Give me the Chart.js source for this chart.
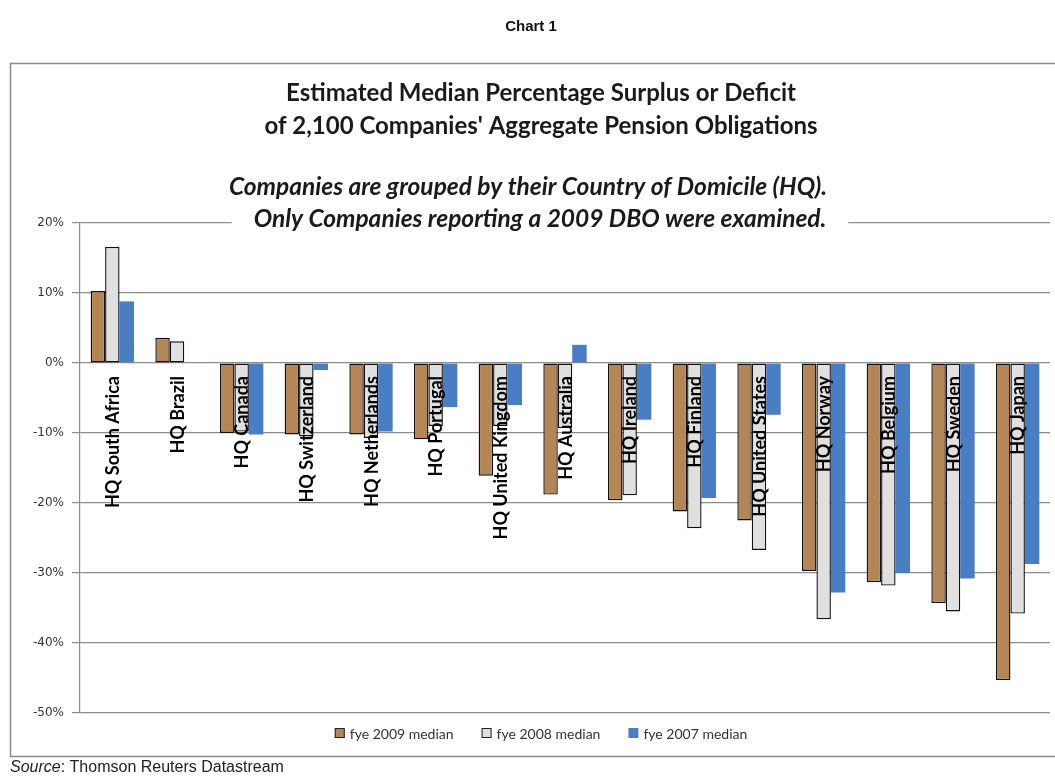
<!DOCTYPE html>
<html>
<head>
<meta charset="utf-8">
<script src="https://cdn.jsdelivr.net/npm/chart.js@4"></script>
<style>
html,body{margin:0;padding:0;background:#fff;}
canvas{display:block;}
</style>
</head>
<body>
<canvas id="c" width="1055" height="776"></canvas>
<script>
const categories = ['HQ South Africa','HQ Brazil','HQ Canada','HQ Switzerland','HQ Netherlands','HQ Portugal','HQ United Kingdom','HQ Australia','HQ Ireland','HQ Finland','HQ United States','HQ Norway','HQ Belgium','HQ Sweden','HQ Japan'];
const fye2009 = [10.3, 3.6, -10.0, -10.2, -10.2, -10.9, -16.1, -18.8, -19.6, -21.2, -22.5, -29.7, -31.3, -34.3, -45.3];
const fye2008 = [16.6, 3.1, -9.8, -10.5, -10.7, -9.0, -9.0, -9.3, -18.9, -23.6, -26.7, -36.6, -31.8, -35.5, -35.8];
const fye2007 = [8.8, null, -10.2, -1.0, -9.8, -6.3, -6.0, 2.6, -8.1, -19.3, -7.4, -32.8, -30.0, -30.8, -28.7];
const seriesNames = ['fye 2009 median','fye 2008 median','fye 2007 median'];
const yTicks = {min: -50, max: 20, step: 10};
const chartHeading = 'Chart 1';
const titleLines = ['Estimated Median Percentage Surplus or Deficit', "of 2,100 Companies' Aggregate Pension Obligations"];
const subtitleLines = ['Companies are grouped by their Country of Domicile (HQ).', 'Only Companies reporting a 2009 DBO were examined.'];
const sourceText = ['Source', ': Thomson Reuters Datastream'];

const decor = {
  id: 'decor',
  beforeDraw(chart) {
    const ctx = chart.ctx;
    ctx.save();
    ctx.fillStyle = '#fff';
    ctx.fillRect(0, 0, chart.width, chart.height);
    ctx.strokeStyle = '#8a8a8a';
    ctx.lineWidth = 1.5;
    ctx.strokeRect(10.5, 63.5, 1060, 693);
    ctx.fillStyle = '#111';
    ctx.textAlign = 'center';
    ctx.textBaseline = 'middle';
    ctx.font = 'bold 15px "Liberation Sans", Arial, sans-serif';
    ctx.fillText(chartHeading, 531, 27);
    ctx.textAlign = 'left';
    ctx.font = 'italic 16px "Liberation Sans", Arial, sans-serif';
    ctx.fillStyle = '#222';
    ctx.fillText(sourceText[0], 10, 768);
    const w = ctx.measureText(sourceText[0]).width;
    ctx.font = '16px "Liberation Sans", Arial, sans-serif';
    ctx.fillText(sourceText[1], 10 + w, 768);
    ctx.restore();
  },
  afterDraw(chart) {
    const ctx = chart.ctx;
    ctx.save();
    ctx.textAlign = 'center';
    ctx.textBaseline = 'middle';
    ctx.fillStyle = '#1a1a1a';
    ctx.font = 'bold 24px Lato, sans-serif';
    ctx.fillText(titleLines[0], 541, 93);
    ctx.fillText(titleLines[1], 541, 126);
    ctx.font = 'italic bold 24.5px Lato, sans-serif';
    const w2 = ctx.measureText(subtitleLines[1]).width;
    ctx.fillStyle = '#fff';
    ctx.fillRect(540 - w2 / 2 - 22, 206, w2 + 44, 28);
    ctx.fillStyle = '#1a1a1a';
    ctx.fillText(subtitleLines[0], 528, 187);
    ctx.fillText(subtitleLines[1], 540, 219);
    const ds = chart.data.datasets;
    ctx.font = '14px Lato, sans-serif';
    ctx.textAlign = 'left';
    const box = 10, gapB = 5, gapI = 28;
    const widths = ds.map(d => box + gapB + ctx.measureText(d.label).width);
    const total = widths.reduce((a, b) => a + b, 0) + gapI * (ds.length - 1);
    let x = 541 - total / 2;
    const ly = 733;
    ds.forEach((d, i) => {
      ctx.fillStyle = d.backgroundColor;
      ctx.fillRect(x, ly - box / 2, box, box);
      if (d.borderWidth) {
        ctx.strokeStyle = '#222';
        ctx.lineWidth = 1;
        ctx.strokeRect(x + 0.5, ly - box / 2 + 0.5, box - 1, box - 1);
      }
      ctx.fillStyle = '#333';
      ctx.fillText(d.label, x + box + gapB, ly + 1);
      x += widths[i] + gapI;
    });
    ctx.restore();
  },
  afterDatasetsDraw(chart) {
    const ctx = chart.ctx;
    const xs = chart.scales.x, ys = chart.scales.y;
    ctx.save();
    ctx.font = 'bold 18px Lato, sans-serif';
    ctx.fillStyle = '#000';
    ctx.textAlign = 'right';
    ctx.textBaseline = 'middle';
    const y0 = ys.getPixelForValue(0);
    chart.data.labels.forEach((lab, i) => {
      const cx = xs.getPixelForValue(i) + 1;
      ctx.save();
      ctx.translate(cx, y0 + 13);
      ctx.rotate(-Math.PI / 2);
      ctx.fillText(lab, 0, 0);
      ctx.restore();
    });
    ctx.restore();
  }
};

new Chart(document.getElementById('c'), {
  type: 'bar',
  data: {
    labels: categories,
    datasets: [
      {label: seriesNames[0], data: fye2009, backgroundColor: '#b48656', borderColor: '#111', borderWidth: 1.4, borderSkipped: false},
      {label: seriesNames[1], data: fye2008, backgroundColor: '#e0e0e0', borderColor: '#111', borderWidth: 1.4, borderSkipped: false},
      {label: seriesNames[2], data: fye2007, backgroundColor: '#4a7ec4', borderWidth: 0}
    ]
  },
  options: {
    responsive: false,
    devicePixelRatio: 1,
    animation: false,
    layout: {padding: {top: 223, bottom: 63, left: 0, right: 5}},
    datasets: {bar: {categoryPercentage: 0.67, barPercentage: 1.0}},
    plugins: {legend: {display: false}, title: {display: false}, tooltip: {enabled: false}},
    scales: {
      x: {display: false, offset: true},
      y: {
        min: yTicks.min, max: yTicks.max,
        afterFit(s) { s.width = 80; },
        ticks: {stepSize: yTicks.step, callback: v => v + '%', color: '#333', padding: 8,
                font: {family: '"DejaVu Sans", sans-serif', size: 12}},
        grid: {color: '#8c8c8c', lineWidth: 1.2, tickLength: 8, drawTicks: true},
        border: {display: true, color: '#8c8c8c', width: 1.2}
      }
    }
  },
  plugins: [decor]
});
</script>
</body>
</html>
